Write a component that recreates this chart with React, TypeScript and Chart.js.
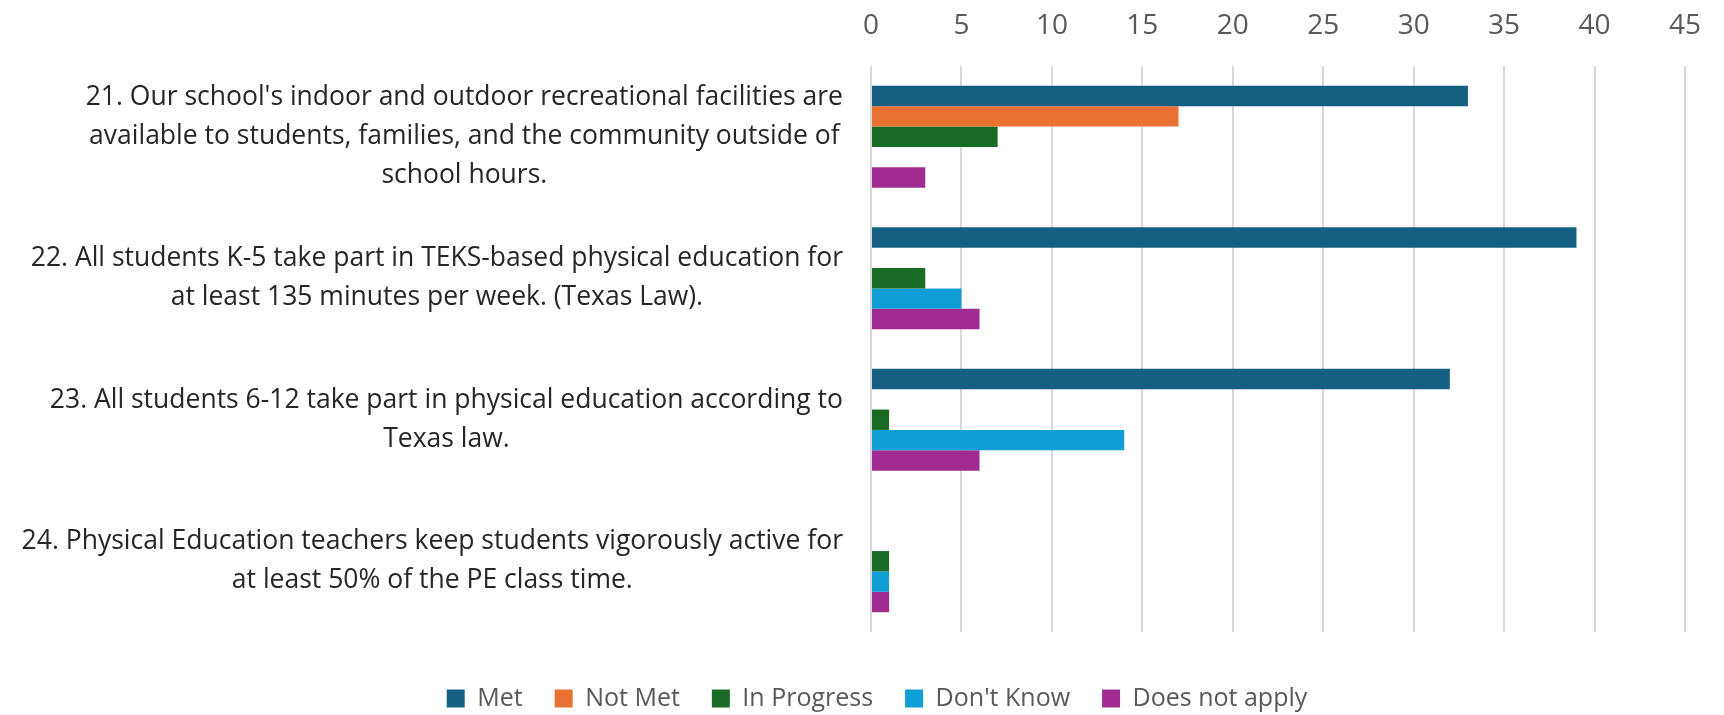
import React, { useEffect, useRef } from 'react';
import { Chart, registerables } from 'chart.js';

Chart.register(...registerables);

const categories: string[][] = [
  ["21. Our school's indoor and outdoor recreational facilities are", "available to students, families, and the community outside of", "school hours."],
  ["22. All students K-5 take part in TEKS-based physical education for", "at least 135 minutes per week. (Texas Law)."],
  ["23. All students 6-12 take part in physical education according to", "Texas law."],
  ["24. Physical Education teachers keep students vigorously active for", "at least 50% of the PE class time."],
];

const seriesNames = ['Met', 'Not Met', 'In Progress', "Don't Know", 'Does not apply'];
const met = [33, 39, 32, 0];
const notMet = [17, 0, 0, 0];
const inProgress = [7, 3, 1, 1];
const dontKnow = [0, 5, 14, 1];
const doesNotApply = [3, 6, 6, 1];
const seriesColors = ['#156082', '#E97132', '#196B24', '#0F9ED5', '#A02B93'];

const xMin = 0;
const xMax = 45;
const xStep = 5;

const FONT = "'Open Sans', 'Liberation Sans', Arial, sans-serif";
const LABEL_SIZE = 26.5;
const LINE_H = 39;

const blockLabels = {
  id: 'blockLabels',
  afterDraw(chart: any) {
    const y = chart.scales.y;
    const ctx = chart.ctx;
    ctx.save();
    ctx.font = `${LABEL_SIZE}px ${FONT}`;
    ctx.fillStyle = '#262626';
    ctx.textAlign = 'center';
    ctx.textBaseline = 'middle';
    const right = y.right - 28;
    categories.forEach((lines, i) => {
      const cy = y.getPixelForTick(i);
      const w = Math.max(...lines.map((l) => ctx.measureText(l).width));
      const cx = right - w / 2;
      lines.forEach((l, j) => {
        ctx.fillText(l, cx, cy + (j - (lines.length - 1) / 2) * LINE_H);
      });
    });
    ctx.restore();
  },
};

export default function App() {
  const ref = useRef<HTMLCanvasElement | null>(null);
  useEffect(() => {
    document.body.style.margin = '0';
    const values = [met, notMet, inProgress, dontKnow, doesNotApply];
    const chart = new Chart(ref.current as HTMLCanvasElement, {
      type: 'bar',
      data: {
        labels: categories.map((c) => c.join(' ')),
        datasets: seriesNames.map((name, i) => ({
          label: name,
          data: values[i],
          backgroundColor: seriesColors[i],
          borderWidth: 0,
          categoryPercentage: 0.72,
          barPercentage: 1,
        })),
      },
      options: {
        indexAxis: 'y',
        animation: false,
        responsive: false,
        layout: { padding: { left: 57, right: 27, top: 0, bottom: -6 } },
        scales: {
          x: {
            position: 'top',
            min: xMin,
            max: xMax,
            ticks: {
              stepSize: xStep,
              color: '#595959',
              font: { family: FONT, size: 28 },
              padding: 23,
            },
            grid: { color: '#d9d9d9', lineWidth: 2, drawTicks: false },
            border: { display: false },
            afterFit: (s: any) => { s.height = 66; },
          },
          gap: {
            type: 'linear',
            position: 'bottom',
            display: true,
            ticks: { display: false },
            grid: { display: false, drawTicks: false },
            border: { display: false },
            afterFit: (s: any) => { s.height = 22; },
          },
          y: {
            ticks: { display: false },
            grid: { display: false },
            border: { display: false },
            afterFit: (s: any) => { s.width = 814; },
          },
        },
        plugins: {
          legend: {
            position: 'bottom',
            labels: {
              boxWidth: 18,
              boxHeight: 18,
              padding: 32,
              color: '#595959',
              font: { family: FONT, size: 25 },
            },
          },
          tooltip: { enabled: false },
        },
      },
      plugins: [blockLabels],
    });
    return () => chart.destroy();
  }, []);
  return (
    <div style={{ width: 1724, height: 715, background: '#fff' }}>
      <canvas ref={ref} width={1724} height={715} />
    </div>
  );
}
